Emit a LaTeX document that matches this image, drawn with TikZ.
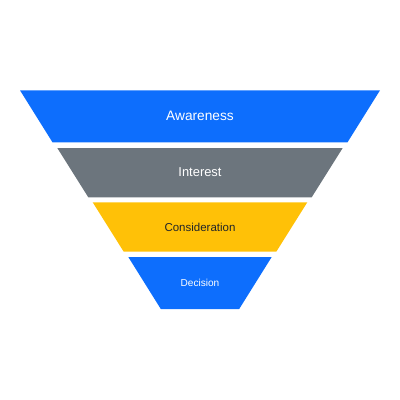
\documentclass[tikz,border=0pt]{standalone}
\usepackage{fontspec}
\setmainfont{Liberation Sans}
\definecolor{fblue}{HTML}{0D6EFD}
\definecolor{fgray}{HTML}{6C757D}
\definecolor{fyellow}{HTML}{FFC107}
\definecolor{fdark}{HTML}{212529}
\tikzset{
  band/.style={draw=none},
  lbl/.style={inner sep=0pt, anchor=center},
}
\begin{document}
\begin{tikzpicture}[x=1pt,y=-1pt]
\useasboundingbox (0,0) rectangle (400,400);
\fill[band, fblue]   (20,90.3) -- (380,90.3) -- (347.5,142.3) -- (52.5,142.3) -- cycle;
\fill[band, fgray]   (57.3,148) -- (342.7,148) -- (311.7,197.3) -- (88.3,197.3) -- cycle;
\fill[band, fyellow] (92.7,202.3) -- (307.3,202.3) -- (276.3,251.7) -- (123.7,251.7) -- cycle;
\fill[band, fblue]   (128.3,257) -- (271.7,257) -- (239.2,309) -- (160.8,309) -- cycle;
\node[lbl, text=white, font=\fontsize{13.7}{16}\selectfont] (aw) at (200,116.3) {Awareness};
\node[lbl, text=white, font=\fontsize{12.9}{15}\selectfont] (in) at (200,172.6) {Interest};
\node[lbl, text=fdark, font=\fontsize{11.5}{14}\selectfont] (co) at (200,227) {Consideration};
\node[lbl, text=white, font=\fontsize{10.1}{12}\selectfont] (de) at (200,283) {Decision};
\end{tikzpicture}
\end{document}
